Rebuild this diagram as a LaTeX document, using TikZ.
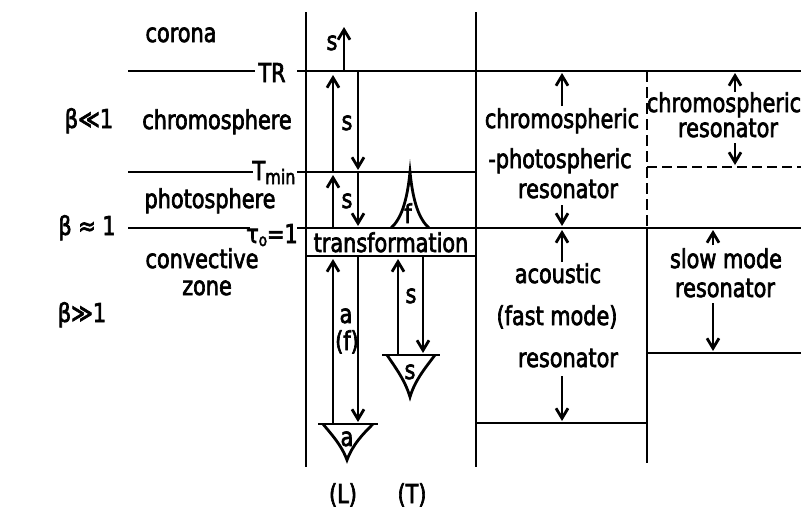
\documentclass[tikz,border=0pt]{standalone}
\usepackage{fontspec}
\setmainfont{DejaVu Sans}[FakeStretch=0.8, FakeBold=2.5]
\usetikzlibrary{arrows.meta}
\tikzset{
    schrift/.style = {inner sep=0pt, anchor=base, font=\fontsize{26}{28}\selectfont},
    grenze/.style  = {line width=2.8pt},
    gestr/.style   = {grenze, dash pattern=on 11pt off 5pt},
    pfeil/.style   = {grenze, -{Straight Barb[length=10pt, width=12pt]}}
}

\begin{document}
\begin{tikzpicture}[x=1pt, y=-1pt]
    \fill[white] (0,0) rectangle (801,512);
    \useasboundingbox (0,0) rectangle (801,512);
    \clip (0,0) rectangle (801,512);

    % --- Schichten links ---
    \node[schrift] (corona)  at (181,42)  {corona};
    \node[schrift] (chromo)  at (217,129) {chromosphere};
    \node[schrift] (photo)   at (210,208) {photosphere};
    \node[schrift] (konv)    at (202,268) {convective};
    \node[schrift] (zone)    at (207,295) {zone};
    \node[schrift] (betaA)   at (89,128)  {β≪1};
    \node[schrift] (betaB)   at (87,235)  {β ≈ 1};
    \node[schrift] (betaC)   at (82,322)  {β≫1};

    \node[schrift] (tr)   at (272,82)  {TR};
    \node[schrift] (tmin) at (274,180) {T\raisebox{-4pt}{\fontsize{20}{20}\selectfont min}};
    \node[schrift] (tau)  at (272,243) {τ\raisebox{-3pt}{\fontsize{17}{17}\selectfont o}=1};

    \draw[grenze] (128,71)  -- (255,71);
    \draw[grenze] (297,71)  -- (801,71);
    \draw[grenze] (128,172) -- (253,172);
    \draw[grenze] (297,172) -- (476,172);
    \draw[grenze] (128,228) -- (250,228);
    \draw[grenze] (297,228) -- (801,228);

    % --- Spalten ---
    \draw[grenze] (306,12) -- (306,467);
    \draw[grenze] (476,12) -- (476,467);
    \draw[gestr]  (647,71) -- (647,228);
    \draw[grenze] (647,228) -- (647,463);
    \draw[grenze] (306,256) -- (476,256);
    \draw[gestr, dash pattern=on 10pt off 5pt] (647,167) -- (801,167);
    \draw[grenze] (647,353) -- (801,353);
    \draw[grenze] (476,423) -- (647,423);

    \node[schrift] (trafo) at (391,252) {transformation};

    % --- Wellen (L) und (T) ---
    \draw[pfeil] (344,71)  -- (344,27);
    \draw[pfeil] (333,172) -- (333,75);
    \draw[pfeil] (358,71)  -- (358,170);
    \draw[pfeil] (333,228) -- (333,175);
    \draw[pfeil] (358,172) -- (358,226);
    \draw[pfeil] (333,424) -- (333,259);
    \draw[pfeil] (358,256) -- (358,422);
    \draw[pfeil] (398,355) -- (398,259);
    \draw[pfeil] (423,256) -- (423,353);

    \node[schrift] (sA) at (332,50)  {s};
    \node[schrift] (sB) at (347,130) {s};
    \node[schrift] (sC) at (347,208) {s};
    \node[schrift] (fA) at (408,223) {f};
    \node[schrift] (aA) at (346,323) {a};
    \node[schrift] (fB) at (347,350) {(f)};
    \node[schrift] (sD) at (411,303) {s};
    \node[schrift] (sE) at (410,379) {s};
    \node[schrift] (aB) at (347,446) {a};
    \node[schrift] (long)  at (343,503) {(L)};
    \node[schrift] (trans) at (412,503) {(T)};

    \draw[grenze] (391,228) .. controls (401,219) and (407,202) .. (410,172)
                            .. controls (413,202) and (419,219) .. (429,228);
    \draw[grenze] (318,424) -- (378,424);
    \draw[grenze] (323,424) .. controls (331,434) and (341,444) .. (347,460)
                            .. controls (353,444) and (363,434) .. (373,424);
    \draw[grenze] (382,355) -- (440,355);
    \draw[grenze] (387,355) .. controls (395,367) and (405,380) .. (410,397)
                            .. controls (415,380) and (426,367) .. (435,355);

    % --- Resonatoren ---
    \node[schrift] (cpA) at (562,128) {chromospheric};
    \node[schrift] (cpB) at (560,168) {-photospheric};
    \node[schrift] (cpC) at (568,198) {resonator};
    \node[schrift] (akA) at (558,283) {acoustic};
    \node[schrift] (akB) at (557,325) {(fast mode)};
    \node[schrift] (akC) at (568,367) {resonator};
    \node[schrift] (crA) at (724,112) {chromospheric};
    \node[schrift] (crB) at (728,137) {resonator};
    \node[schrift] (slA) at (726,268) {slow mode};
    \node[schrift] (slB) at (725,297) {resonator};

    \draw[pfeil] (562,106) -- (562,73);
    \draw[pfeil] (562,205) -- (562,226);
    \draw[pfeil] (562,262) -- (562,230);
    \draw[pfeil] (562,376) -- (562,421);
    \draw[pfeil] (735,92)  -- (735,73);
    \draw[pfeil] (735,143) -- (735,165);
    \draw[pfeil] (713,245) -- (713,230);
    \draw[pfeil] (713,303) -- (713,351);
\end{tikzpicture}
\end{document}
